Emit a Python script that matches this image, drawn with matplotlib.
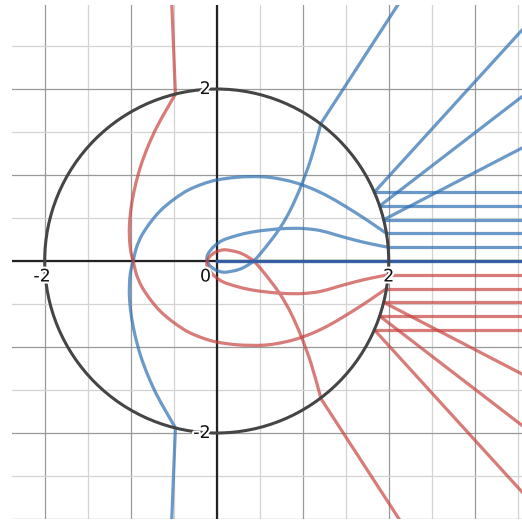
import numpy as np
import matplotlib
matplotlib.use('Agg')
import matplotlib.pyplot as plt
import matplotlib.patheffects as pe
from matplotlib.path import Path
from matplotlib.patches import PathPatch

# upper branch curves (blue); the red ones are the same curves mirrored in y=0
radius = 2.0

# big arc: from the bottom edge, kink on the circle, round the left side, into the circle again
arc_x = [-0.523, -0.48, -0.59, -0.70, -0.80, -0.885, -0.95, -0.995, -1.015, -1.01, -0.99,
         -0.97, -0.935, -0.87, -0.77, -0.65, -0.50, -0.34, -0.17, 0.0, 0.25, 0.515,
         0.70, 0.90, 1.10, 1.29, 1.48, 1.68, 1.83, 1.974]
arc_y = [-3.02, -1.94, -1.75, -1.55, -1.33, -1.10, -0.86, -0.62, -0.40, -0.20, -0.07,
         0.0, 0.15, 0.30, 0.45, 0.59, 0.715, 0.82, 0.893, 0.942, 0.975, 0.98,
         0.96, 0.915, 0.845, 0.755, 0.645, 0.52, 0.42, 0.32]

# steep line from the top edge, kink on the circle, small loop round the origin
loop_x = [2.14, 1.213, 1.10, 0.98, 0.86, 0.74, 0.62, 0.52, 0.43, 0.35, 0.27, 0.17,
          0.077, -0.02, -0.09, -0.115, -0.09, -0.02, 0.077, 0.23, 0.40, 0.60, 0.80,
          1.00, 1.20, 1.40, 1.60, 1.80, 1.994]
loop_y = [3.03, 1.601, 1.20, 0.87, 0.60, 0.39, 0.225, 0.10, 0.0, -0.055, -0.095, -0.12,
          -0.13, -0.10, -0.04, 0.03, 0.10, 0.18, 0.244, 0.295, 0.335, 0.362, 0.378,
          0.378, 0.355, 0.30, 0.245, 0.198, 0.16]

# horizontal rays leaving the circle to the right
ray_levels = [0.16, 0.32, 0.48, 0.64, 0.80]

# slanted rays: start on the circle, end past the right edge
slant_x0 = [1.833, 1.895, 1.942]
slant_y0 = [0.80, 0.64, 0.48]
slant_x1 = [3.60, 3.60, 3.60]
slant_y1 = [2.74, 1.95, 1.34]

blue = '#2d70b3'
red = '#c74440'
lw = 2.3


def smooth_path(xs, ys):
    # cubic bezier through the points (catmull-rom tangents), first segment kept straight
    p = np.column_stack([xs, ys])
    verts = [p[0], p[1]]
    codes = [Path.MOVETO, Path.LINETO]
    q = p[1:]
    n = len(q)
    for i in range(n - 1):
        p0 = q[i - 1] if i > 0 else q[i]
        p3 = q[i + 2] if i + 2 < n else q[i + 1]
        c1 = q[i] + (q[i + 1] - p0) / 6.0
        c2 = q[i + 1] - (p3 - q[i]) / 6.0
        verts += [c1, c2, q[i + 1]]
        codes += [Path.CURVE4] * 3
    return Path(verts, codes)


fig = plt.figure(figsize=(5.22, 5.22), dpi=100)
ax = fig.add_axes([12 / 522, 3 / 522, 510 / 522, 514 / 522])
ax.set_xlim(-2.38, 3.55)
ax.set_ylim(-3.0, 2.977)
ax.axis('off')

# grid: half units light, whole units darker
for v in np.arange(-2.0, 3.6, 0.5):
    major = float(v).is_integer()
    ax.axvline(v, color='#999999' if major else '#d3d3d3', lw=0.9, zorder=0)
for v in np.arange(-3.0, 3.0, 0.5):
    major = float(v).is_integer()
    ax.axhline(v, color='#999999' if major else '#d3d3d3', lw=0.9, zorder=0)
ax.axvline(0, color='#222222', lw=1.6, zorder=1)
ax.axhline(0, color='#222222', lw=1.6, zorder=1)

for sign, col in [(1, blue), (-1, red)]:
    kw = dict(color=col, alpha=0.7, lw=lw, solid_capstyle='round',
              solid_joinstyle='round', zorder=3)
    for xs, ys in [(arc_x, arc_y), (loop_x, loop_y)]:
        ax.add_patch(PathPatch(smooth_path(xs, sign * np.array(ys)), fill=False,
                               edgecolor=col, alpha=0.7, lw=lw, joinstyle='round',
                               capstyle='round', zorder=3))
    for lv in ray_levels:
        x0 = np.sqrt(radius ** 2 - lv ** 2)
        ax.plot([x0, 3.7], [sign * lv, sign * lv], **kw)
    for a, b, c, d in zip(slant_x0, slant_y0, slant_x1, slant_y1):
        ax.plot([a, c], [sign * b, sign * d], **kw)

# positive real axis drawn on top
ax.plot([0, 3.7], [0, 0], color='#3460a8', lw=2.4, alpha=0.95, zorder=4)

circle = plt.Circle((0, 0), radius, fill=False, color='#454545', lw=2.2, zorder=5)
ax.add_patch(circle)

halo = [pe.withStroke(linewidth=3, foreground='white')]
lab = dict(fontsize=12.5, color='#111111', zorder=6, path_effects=halo)
ax.text(-2.03, -0.18, '-2', ha='center', va='center', **lab)
ax.text(-0.13, -0.18, '0', ha='center', va='center', **lab)
ax.text(2.0, -0.18, '2', ha='center', va='center', **lab)
ax.text(-0.07, 2.0, '2', ha='right', va='center', **lab)
ax.text(-0.07, -2.0, '-2', ha='right', va='center', **lab)

fig.savefig('out.png', dpi=100)
